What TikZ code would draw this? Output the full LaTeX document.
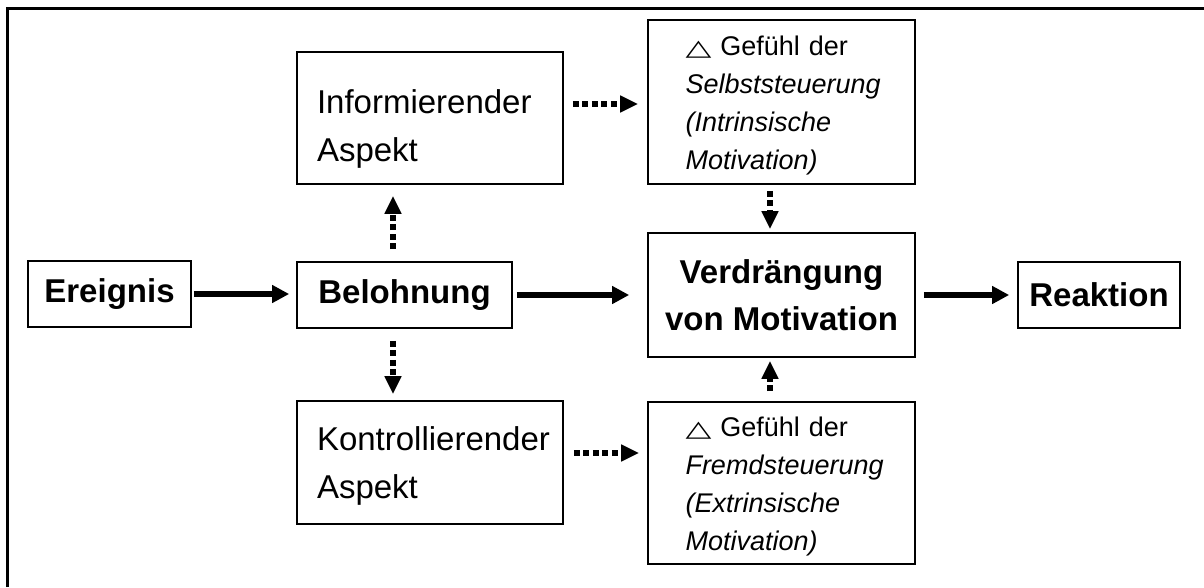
\documentclass[tikz,border=0pt]{standalone}
\usepackage{fontspec}
\setmainfont{Liberation Sans}
\newfontfamily\djv{DejaVu Sans}
\usetikzlibrary{arrows.meta}
\newcommand{\tri}{{\djv\fontsize{28}{28}\selectfont\scalebox{1.2}[0.8]{△}}}
\begin{document}
\begin{tikzpicture}[x=1pt,y=-1pt,
  box/.style={draw,line width=1.7pt,rectangle,inner sep=0pt},
  bigbold/.style={font=\fontsize{33}{47}\selectfont\bfseries},
  bigtxt/.style={font=\fontsize{33}{48}\selectfont,align=left,text width=226pt},
  smalltxt/.style={font=\fontsize{27}{38}\selectfont,align=left,text width=192pt},
  solidarrow/.style={line width=6pt,-{Triangle[length=17pt,width=17pt]}},
  dotarrow/.style={line width=5.5pt,dash pattern=on 6pt off 3.5pt,-{Triangle[length=18pt,width=16pt]}}
]
\useasboundingbox (0,0) rectangle (1204,587);
\draw[line width=2.2pt] (7.5,587) -- (7.5,8.5) -- (1204,8.5);

\node[box,bigbold,minimum width=163pt,minimum height=66pt] (ereignis) at (109.5,294) {Ereignis};
\node[box,bigbold,minimum width=215pt,minimum height=66pt] (belohnung) at (404.5,295) {Belohnung};
\node[box,bigtxt,minimum width=266pt,minimum height=132pt] (info) at (430,118) {\rule{0pt}{46pt}Informierender\\Aspekt};
\node[box,bigtxt,minimum width=266pt,minimum height=123pt] (kontr) at (430,462.5) {\rule{0pt}{30pt}Kontrollierender\\Aspekt};
\node[box,smalltxt,minimum width=267pt,minimum height=164pt] (selbst) at (781.5,102) {\rule{0pt}{27pt}\tri\ Gefühl der\\\textit{Selbststeuerung}\\\textit{(Intrinsische}\\\textit{Motivation)}};
\node[box,bigbold,align=center,minimum width=267pt,minimum height=124pt] (verdr) at (781.5,295) {Verdrängung\\von Motivation};
\node[box,smalltxt,minimum width=267pt,minimum height=162pt] (fremd) at (781.5,483) {\rule{0pt}{27pt}\tri\ Gefühl der\\\textit{Fremdsteuerung}\\\textit{(Extrinsische}\\\textit{Motivation)}};
\node[box,bigbold,minimum width=162pt,minimum height=66pt] (reaktion) at (1099,295) {Reaktion};

\draw[solidarrow,shorten <=2pt,shorten >=7pt] (ereignis.east) -- (belohnung.west |- ereignis.east);
\draw[solidarrow,shorten <=4pt,shorten >=18pt] (belohnung.east) -- (verdr.west |- belohnung.east);
\draw[solidarrow,shorten <=8pt,shorten >=8pt] (verdr.east) -- (reaktion.west);

\draw[dotarrow,shorten <=12pt,shorten >=11pt] ([xshift=-11.5pt]belohnung.north) -- ([xshift=-37pt]info.south);
\draw[dotarrow,shorten <=12pt,shorten >=6pt] ([xshift=-11.5pt]belohnung.south) -- ([xshift=-37pt]kontr.north);
\draw[dotarrow,shorten <=9pt,shorten >=9pt] ([yshift=14pt]info.east) -- ([yshift=14pt]info.east -| selbst.west);
\draw[dotarrow,shorten <=10pt,shorten >=8pt] ([yshift=9.5pt]kontr.east) -- ([yshift=9.5pt]kontr.east -| fremd.west);
\draw[dotarrow,shorten <=6pt,shorten >=3pt] ([xshift=-11.5pt]selbst.south) -- ([xshift=-11.5pt]verdr.north);
\draw[dotarrow,shorten <=10pt,shorten >=3pt] ([xshift=-11.5pt]fremd.north) -- ([xshift=-11.5pt]verdr.south);
\end{tikzpicture}
\end{document}
